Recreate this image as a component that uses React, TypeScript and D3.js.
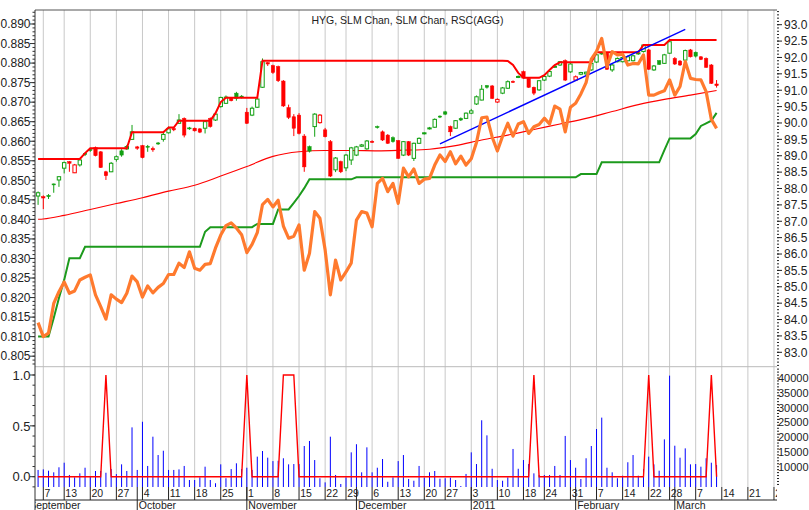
import React from "react";
import * as d3 from "d3";

const TITLE = "HYG, SLM Chan, SLM Chan, RSC(AGG)";
const HOLIDAYS = ["2010-09-06", "2010-11-25", "2010-12-24", "2011-01-17", "2011-02-21"];
const CAL_START = "2010-09-01";
const CAL_END = "2011-03-31";
const FIRST_DAY = "2010-09-03";
const MONTH_NAMES = ["January", "February", "March", "April", "May", "June", "July", "August", "September", "October", "November", "December"];

// HYG daily candles (right axis), from 2010-09-03 to 2011-03-11
const OPEN = [
  87.77, 87.75, 87.79, 88.14, 88.26, 88.62, 88.82, 88.48, 88.72, 89.07,
  89.19, 89.25, 89.12, 88.51, 88.51, 88.89, 89.15, 89.21, 89.50, 89.27,
  89.31, 89.29, 89.22, 89.39, 89.50, 89.70, 89.83, 89.99, 90.14, 89.85,
  89.84, 89.82, 89.84, 90.14, 90.09, 90.50, 90.60, 90.77, 90.91, 90.82,
  90.33, 90.24, 90.48, 91.09, 91.84, 91.75, 91.72, 91.28, 90.47, 90.19,
  90.24, 89.60, 89.28, 89.89, 90.01, 89.79, 89.43, 88.57, 88.82, 88.63,
  88.87, 89.02, 89.29, 89.21, 89.44, 89.89, 89.73, 89.63, 89.55, 89.46,
  89.02, 89.43, 88.92, 89.38, 89.67, 89.82, 89.87, 90.21, 90.34, 89.89,
  89.84, 90.14, 90.14, 90.30, 90.58, 90.70, 91.14, 91.13, 90.64, 90.91,
  91.06, 91.27, 91.39, 91.57, 91.36, 91.09, 91.01, 91.31, 91.43, 91.70,
  91.77, 91.90, 91.56, 91.31, 91.49, 91.50, 91.62, 91.86, 92.11, 92.13,
  91.62, 91.87, 91.87, 91.90, 91.90, 92.11, 92.18, 92.23, 91.62, 91.90,
  91.82, 92.13, 91.97, 91.89, 91.92, 92.23, 92.16, 92.02, 91.97, 91.77,
  91.19,
];
const HIGH = [
  87.91, 87.79, 87.83, 88.15, 88.38, 88.82, 88.84, 88.75, 88.90, 89.09,
  89.21, 89.28, 89.14, 88.54, 88.81, 89.01, 89.20, 89.33, 89.94, 89.30,
  89.33, 89.33, 89.28, 89.42, 89.70, 89.89, 89.85, 90.27, 90.17, 89.88,
  89.86, 89.84, 90.07, 90.17, 90.30, 90.80, 90.84, 90.79, 90.95, 90.85,
  90.46, 90.50, 90.79, 91.97, 91.86, 91.78, 91.75, 91.31, 90.56, 90.27,
  90.30, 89.66, 89.31, 90.30, 90.27, 89.85, 89.48, 88.96, 88.85, 89.05,
  89.27, 89.30, 89.36, 89.48, 89.47, 89.92, 89.77, 89.66, 89.59, 89.48,
  89.45, 89.45, 89.40, 89.56, 89.72, 89.88, 90.14, 90.23, 90.37, 89.92,
  90.09, 90.17, 90.32, 90.43, 90.84, 91.16, 91.16, 91.16, 90.75, 91.10,
  91.30, 91.30, 91.45, 91.60, 91.37, 91.11, 91.31, 91.46, 91.59, 91.75,
  91.89, 91.94, 91.83, 91.45, 91.56, 91.57, 91.98, 92.11, 92.17, 92.15,
  91.80, 92.00, 92.03, 92.06, 92.08, 92.17, 92.41, 92.26, 91.77, 91.92,
  92.11, 92.53, 92.01, 91.92, 92.24, 92.26, 92.18, 92.04, 92.00, 91.80,
  91.31,
];
const LOW = [
  87.50, 87.37, 87.68, 87.87, 88.05, 88.46, 88.51, 88.47, 88.67, 88.99,
  89.12, 88.98, 88.63, 88.26, 88.50, 88.82, 88.97, 89.18, 89.48, 89.18,
  88.92, 89.12, 89.12, 89.33, 89.43, 89.68, 89.75, 89.97, 89.56, 89.79,
  89.74, 89.69, 89.68, 89.86, 90.06, 90.47, 90.58, 90.66, 90.68, 90.75,
  89.97, 90.21, 90.46, 91.07, 91.74, 91.50, 91.25, 90.49, 90.12, 89.60,
  89.65, 88.51, 89.10, 89.58, 89.98, 89.56, 88.35, 88.50, 88.47, 88.53,
  88.72, 88.99, 89.27, 89.18, 89.39, 89.83, 89.45, 89.36, 89.40, 88.90,
  88.99, 88.99, 88.84, 89.36, 89.65, 89.80, 89.85, 90.15, 90.24, 89.60,
  89.82, 90.06, 90.12, 90.27, 90.55, 90.69, 91.05, 90.73, 90.61, 90.88,
  91.04, 91.22, 91.37, 91.36, 91.07, 90.85, 90.98, 91.28, 91.40, 91.68,
  91.74, 91.28, 91.53, 91.28, 91.46, 91.46, 91.59, 91.83, 92.08, 91.62,
  91.56, 91.85, 91.85, 91.88, 91.88, 92.08, 92.15, 91.62, 91.59, 91.77,
  91.80, 92.11, 91.77, 91.74, 91.89, 92.00, 92.00, 91.92, 91.68, 91.19,
  91.08,
];
const CLOSE = [
  87.87, 87.71, 87.75, 88.11, 88.36, 88.79, 88.77, 88.72, 88.87, 89.04,
  89.16, 89.00, 88.64, 88.39, 88.77, 88.97, 89.02, 89.28, 89.73, 89.23,
  88.94, 89.26, 89.18, 89.36, 89.65, 89.82, 89.79, 90.09, 89.63, 89.82,
  89.76, 89.72, 90.04, 89.89, 90.27, 90.78, 90.79, 90.68, 90.75, 90.79,
  89.99, 90.45, 90.73, 91.87, 91.80, 91.54, 91.29, 90.52, 90.17, 89.84,
  89.68, 88.66, 89.14, 90.27, 90.24, 89.58, 88.38, 88.93, 88.51, 89.02,
  89.24, 89.27, 89.33, 89.45, 89.41, 89.86, 89.48, 89.38, 89.43, 88.92,
  89.43, 89.02, 89.38, 89.53, 89.70, 89.85, 90.11, 90.18, 90.27, 89.73,
  90.07, 90.09, 90.30, 90.37, 90.80, 91.03, 91.09, 90.75, 90.72, 91.07,
  91.26, 91.24, 91.42, 91.37, 91.09, 90.91, 91.29, 91.42, 91.57, 91.73,
  91.87, 91.31, 91.80, 91.41, 91.54, 91.55, 91.82, 92.08, 92.14, 91.64,
  91.77, 91.97, 92.00, 92.02, 92.05, 92.14, 92.38, 91.64, 91.74, 91.79,
  92.08, 92.48, 91.80, 91.77, 92.21, 92.02, 92.04, 91.94, 91.70, 91.21,
  91.14,
];
// SLM channel, upper and lower (right axis)
const UPPER = [
  88.90, 88.90, 88.90, 88.90, 88.90, 88.90, 88.90, 88.90, 88.90, 89.08,
  89.23, 89.23, 89.23, 89.23, 89.23, 89.23, 89.23, 89.23, 89.72, 89.72,
  89.72, 89.72, 89.72, 89.72, 89.72, 89.86, 89.86, 90.07, 90.07, 90.07,
  90.07, 90.07, 90.07, 90.07, 90.30, 90.64, 90.77, 90.77, 90.77, 90.77,
  90.77, 90.77, 90.77, 91.90, 91.90, 91.90, 91.90, 91.90, 91.90, 91.90,
  91.90, 91.90, 91.90, 91.90, 91.90, 91.90, 91.90, 91.90, 91.90, 91.90,
  91.90, 91.90, 91.90, 91.90, 91.90, 91.90, 91.90, 91.90, 91.90, 91.90,
  91.90, 91.90, 91.90, 91.90, 91.90, 91.90, 91.90, 91.90, 91.90, 91.90,
  91.90, 91.90, 91.90, 91.90, 91.90, 91.90, 91.90, 91.90, 91.90, 91.90,
  91.89, 91.77, 91.53, 91.38, 91.38, 91.38, 91.38, 91.46, 91.62, 91.77,
  91.85, 91.85, 91.85, 91.85, 91.85, 91.85, 91.85, 92.16, 92.16, 92.16,
  92.16, 92.16, 92.16, 92.16, 92.16, 92.16, 92.38, 92.38, 92.38, 92.38,
  92.38, 92.53, 92.53, 92.53, 92.53, 92.53, 92.53, 92.53, 92.53, 92.53,
  92.53,
];
const LOWER = [
  83.48, 83.48, 83.48, 84.05, 84.66, 85.21, 85.87, 85.87, 85.87, 86.22,
  86.22, 86.22, 86.22, 86.22, 86.22, 86.22, 86.22, 86.22, 86.22, 86.22,
  86.22, 86.22, 86.22, 86.22, 86.22, 86.22, 86.22, 86.22, 86.22, 86.22,
  86.22, 86.22, 86.68, 86.82, 86.82, 86.82, 86.82, 86.82, 86.82, 86.82,
  86.82, 86.82, 86.92, 86.92, 86.92, 86.92, 87.36, 87.36, 87.36, 87.56,
  87.77, 88.01, 88.28, 88.28, 88.28, 88.28, 88.28, 88.28, 88.28, 88.28,
  88.28, 88.34, 88.34, 88.34, 88.34, 88.34, 88.34, 88.34, 88.34, 88.34,
  88.34, 88.34, 88.34, 88.34, 88.34, 88.34, 88.34, 88.34, 88.34, 88.34,
  88.34, 88.34, 88.34, 88.34, 88.34, 88.34, 88.34, 88.34, 88.34, 88.34,
  88.34, 88.34, 88.34, 88.34, 88.34, 88.34, 88.34, 88.34, 88.34, 88.34,
  88.34, 88.34, 88.34, 88.34, 88.44, 88.44, 88.44, 88.44, 88.80, 88.80,
  88.80, 88.80, 88.80, 88.80, 88.80, 88.80, 88.80, 88.80, 88.80, 88.80,
  89.17, 89.53, 89.53, 89.53, 89.53, 89.53, 89.66, 89.91, 89.99, 90.07,
  90.31,
];
// RSC(AGG) relative strength ratio (left axis)
const RSC = [
  0.8136, 0.8100, 0.8109, 0.8185, 0.8215, 0.8240, 0.8211, 0.8217, 0.8245, 0.8252,
  0.8258, 0.8207, 0.8177, 0.8145, 0.8207, 0.8196, 0.8187, 0.8211, 0.8255, 0.8240,
  0.8201, 0.8230, 0.8212, 0.8226, 0.8236, 0.8259, 0.8259, 0.8288, 0.8277, 0.8317,
  0.8275, 0.8270, 0.8285, 0.8287, 0.8327, 0.8360, 0.8384, 0.8391, 0.8378, 0.8361,
  0.8315, 0.8336, 0.8366, 0.8438, 0.8451, 0.8432, 0.8449, 0.8383, 0.8352, 0.8357,
  0.8386, 0.8270, 0.8313, 0.8420, 0.8403, 0.8322, 0.8207, 0.8296, 0.8245, 0.8266,
  0.8288, 0.8398, 0.8420, 0.8416, 0.8381, 0.8492, 0.8505, 0.8471, 0.8492, 0.8441,
  0.8531, 0.8509, 0.8529, 0.8492, 0.8503, 0.8505, 0.8539, 0.8565, 0.8548, 0.8573,
  0.8542, 0.8562, 0.8539, 0.8555, 0.8597, 0.8660, 0.8662, 0.8611, 0.8575, 0.8613,
  0.8646, 0.8613, 0.8644, 0.8650, 0.8620, 0.8637, 0.8643, 0.8659, 0.8644, 0.8690,
  0.8682, 0.8624, 0.8687, 0.8697, 0.8721, 0.8750, 0.8810, 0.8830, 0.8863, 0.8791,
  0.8829, 0.8821, 0.8823, 0.8795, 0.8799, 0.8798, 0.8821, 0.8718, 0.8718, 0.8724,
  0.8729, 0.8757, 0.8718, 0.8740, 0.8804, 0.8761, 0.8758, 0.8757, 0.8727, 0.8656,
  0.8633,
];
const VOLUME = [
  8900, 9100, 8650, 8100, 9800, 11350, 7200, 6400, 7750, 9650,
  6600, 8550, 8550, 7950, 9200, 7500, 10800, 8550, 23300, 8900,
  25200, 10250, 20150, 13950, 15400, 8900, 8900, 9100, 10250, 5500,
  5500, 6400, 10000, 5500, 4400, 10800, 6100, 9200, 11150, 9200,
  9650, 8900, 13400, 15300, 13050, 11900, 12000, 12850, 10800, 10900,
  10900, 17000, 18700, 12250, 6100, 4700, 20150, 7200, 4150, 6400,
  14850, 17600, 8100, 16550, 8100, 9650, 12600, 4900, 6400, 11900,
  13950, 5850, 5250, 10250, 6300, 8100, 8550, 5950, 6100, 6300,
  5500, 3450, 7550, 14850, 10900, 25700, 20600, 9300, 5500, 5250,
  6400, 16000, 9300, 12250, 10900, 7750, 7200, 7200, 7200, 10250,
  7200, 20400, 12250, 9650, 5850, 12850, 17000, 22750, 26600, 9650,
  8100, 6100, 6950, 11500, 13950, 6950, 9200, 13400, 10800, 8650,
  19250, 40800, 17100, 13050, 16200, 10800, 10900, 10000, 12850, 11350,
  10550,
];
const SIGNAL = [
  0, 0, 0, 0, 0, 0, 0, 0, 0, 0,
  0, 0, 0, 1, 0, 0, 0, 0, 0, 0,
  0, 0, 0, 0, 0, 0, 0, 0, 0, 0,
  0, 0, 0, 0, 0, 0, 0, 0, 0, 0,
  1, 0, 0, 0, 0, 0, 0, 1, 1, 1,
  0, 0, 0, 0, 0, 0, 0, 0, 0, 0,
  0, 0, 0, 0, 0, 0, 0, 0, 0, 0,
  0, 0, 0, 0, 0, 0, 0, 0, 0, 0,
  0, 0, 0, 0, 0, 0, 0, 0, 0, 0,
  0, 0, 0, 0, 0, 1, 0, 0, 0, 0,
  0, 0, 0, 0, 0, 0, 0, 0, 0, 0,
  0, 0, 0, 0, 0, 0, 0, 1, 0, 0,
  0, 0, 0, 0, 0, 0, 0, 0, 0, 1,
  0,
];
// Long moving average (thin red), sampled
const MA_DATES = [
  "2010-09-03", "2010-09-07", "2010-09-13", "2010-09-20", "2010-09-27", "2010-10-04", "2010-10-11",
  "2010-10-18", "2010-10-25", "2010-11-01", "2010-11-08", "2010-11-15", "2010-11-22", "2010-11-30",
  "2010-12-07", "2010-12-14", "2010-12-21", "2010-12-29", "2011-01-05", "2011-01-12", "2011-01-20",
  "2011-01-27", "2011-02-03", "2011-02-10", "2011-02-17", "2011-02-25", "2011-03-04", "2011-03-11",
];
const MA_VALUES = [
  87.06, 87.07, 87.18, 87.36, 87.54, 87.72, 87.92,
  88.10, 88.38, 88.67, 88.98, 89.12, 89.16, 89.16,
  89.15, 89.17, 89.20, 89.31, 89.48, 89.63, 89.80,
  89.97, 90.14, 90.35, 90.56, 90.72, 90.85, 90.99,
];
const TREND_DATES = ["2010-12-23", "2011-03-03"];
const TREND_VALUES = [89.36, 92.86];

const RSC_TICKS = ["0.805", "0.810", "0.815", "0.820", "0.825", "0.830", "0.835", "0.840", "0.845", "0.850", "0.855", "0.860", "0.865", "0.870", "0.875", "0.880", "0.885", "0.890"];
const PRICE_TICKS = ["83.0", "83.5", "84.0", "84.5", "85.0", "85.5", "86.0", "86.5", "87.0", "87.5", "88.0", "88.5", "89.0", "89.5", "90.0", "90.5", "91.0", "91.5", "92.0", "92.5", "93.0"];
const SIGNAL_TICKS = ["0.0", "0.5", "1.0"];
const VOLUME_TICKS = ["10000", "15000", "20000", "25000", "30000", "35000", "40000"];

const iso = (d: Date) => d.toISOString().slice(0, 10);

function tradingDays(): Date[] {
  const out: Date[] = [];
  const d = new Date(CAL_START + "T00:00:00Z");
  const end = new Date(CAL_END + "T00:00:00Z");
  while (d <= end) {
    const wd = d.getUTCDay();
    if (wd !== 0 && wd !== 6 && !HOLIDAYS.includes(iso(d))) out.push(new Date(d.getTime()));
    d.setUTCDate(d.getUTCDate() + 1);
  }
  return out;
}

const FONT = "'Liberation Sans', Arial, Helvetica, sans-serif";
const GREEN = "#12a012";
const CH_GREEN = "#1c9a1c";
const RED = "#ff0000";
const ORANGE = "#ff7a2e";
const GRID = "#c8c8c8";
const TXT = "#222";

export default function App() {
  const W = 809, H = 510;
  const L = 35, R = 777, T = 10, M = 366.7, B = 487, ROW = 500;
  const days = tradingDays();
  const pos = (s: string) => days.findIndex((d) => iso(d) === s);
  const off = pos(FIRST_DAY);

  const x = d3.scaleLinear().domain([1.41, 143.58]).range([L, R]);
  const xd = (j: number) => x(off + j);
  const yR = d3.scaleLinear().domain([82.5604, 93.4487]).range([M, T]);
  const yL = d3.scaleLinear().domain([0.802308, 0.893582]).range([M, T]);
  const yS = d3.scaleLinear().domain([-0.1013, 1.0816]).range([B, M]);
  const yV = d3.scaleLinear().domain([3134, 43821]).range([B, M]);

  const weekTicks = days
    .map((d, p) => ({ d, p }))
    .filter(({ d, p }) => p > 0 && d.getUTCDay() < days[p - 1].getUTCDay());
  const monthTicks = days
    .map((d, p) => ({ d, p }))
    .filter(({ d, p }) => p > 0 && d.getUTCMonth() !== days[p - 1].getUTCMonth());
  const monthLabels = [{ d: days[0], p: 0 }, ...monthTicks].map(({ d, p }) => ({
    p,
    text: d.getUTCMonth() === 0 ? String(d.getUTCFullYear()) : MONTH_NAMES[d.getUTCMonth()],
  }));

  const idx = d3.range(CLOSE.length);
  const lineR = (vals: number[]) =>
    d3.line<number>().x((j) => xd(j)).y((j) => yR(vals[j]))(idx) || "";
  const rscPath = d3.line<number>().x((j) => xd(j)).y((j) => yL(RSC[j]))(idx) || "";
  const sigPath = d3.line<number>().x((j) => xd(j)).y((j) => yS(SIGNAL[j]))(idx) || "";
  const maPath =
    d3
      .line<number>()
      .x((k) => x(pos(MA_DATES[k])))
      .y((k) => yR(MA_VALUES[k]))
      .curve(d3.curveMonotoneX)(d3.range(MA_DATES.length)) || "";
  const trendPath =
    d3
      .line<number>()
      .x((k) => x(pos(TREND_DATES[k])))
      .y((k) => yR(TREND_VALUES[k]))(d3.range(TREND_DATES.length)) || "";

  const rscMinor = d3.range(803, 894).map((k) => k / 1000);
  const priceMinor = d3.range(826, 935).map((k) => k / 10);
  const sigMinor = d3.range(-1, 11).map((k) => k / 10);
  const volMinor = d3.range(4, 44).map((k) => k * 1000);

  return (
    <svg
      width={W}
      height={H}
      viewBox={`0 0 ${W} ${H}`}
      style={{ position: "absolute", left: 0, top: 0, background: "#fff" }}
      fontFamily={FONT}
    >
      <defs>
        <clipPath id="clipMain">
          <rect x={L} y={T} width={R - L} height={M - T} />
        </clipPath>
        <clipPath id="clipLow">
          <rect x={L} y={M} width={R - L} height={B - M} />
        </clipPath>
        <clipPath id="clipDates">
          <rect x={L} y={B} width={R - L} height={H - B} />
        </clipPath>
      </defs>
      <rect x={0} y={0} width={W} height={H} fill="#fff" />

      {/* vertical grid */}
      {weekTicks.map(({ p }) => (
        <line key={"g" + p} x1={x(p)} x2={x(p)} y1={T} y2={B} stroke={GRID} strokeWidth={1} />
      ))}
      {/* frame lines */}
      <line x1={L} x2={R} y1={T} y2={T} stroke="#555" strokeWidth={1} />
      <line x1={L} x2={R} y1={M} y2={M} stroke="#bbb" strokeWidth={1} />

      <text x={311.5} y={24} fontSize={10.5} fill={TXT}>
        {TITLE}
      </text>

      {/* main panel */}
      <g clipPath="url(#clipMain)">
        <path d={maPath} fill="none" stroke={RED} strokeWidth={1.1} />
        {idx.map((j) => {
          const o = OPEN[j], c = CLOSE[j], h = HIGH[j], l = LOW[j];
          const prev = j > 0 ? CLOSE[j - 1] : o;
          const color = c >= prev ? GREEN : RED;
          const hollow = c > o;
          const cx = xd(j);
          const yTop = yR(Math.max(o, c));
          const yBot = yR(Math.min(o, c));
          return (
            <g key={"c" + j}>
              <line x1={cx} x2={cx} y1={yR(h)} y2={yR(l)} stroke={color} strokeWidth={1} />
              <rect
                x={cx - 1.7}
                y={yTop}
                width={3.4}
                height={Math.max(1, yBot - yTop)}
                fill={hollow ? "#fff" : color}
                stroke={color}
                strokeWidth={hollow ? 1 : 0.5}
              />
            </g>
          );
        })}
        <path d={lineR(UPPER)} fill="none" stroke={RED} strokeWidth={2} />
        <path d={lineR(LOWER)} fill="none" stroke={CH_GREEN} strokeWidth={2} />
        <path d={trendPath} fill="none" stroke="#0000ff" strokeWidth={1.4} />
        <path d={rscPath} fill="none" stroke={ORANGE} strokeWidth={3.2} strokeLinejoin="round" />
      </g>

      {/* lower panel */}
      <g clipPath="url(#clipLow)">
        {idx.map((j) => (
          <line key={"v" + j} x1={xd(j)} x2={xd(j)} y1={B} y2={yV(VOLUME[j])} stroke="#0000ff" strokeWidth={1} />
        ))}
        <path d={sigPath} fill="none" stroke={RED} strokeWidth={1.4} />
      </g>

      {/* left axis */}
      <line x1={L} x2={L} y1={T} y2={H} stroke="#333" strokeWidth={1} />
      {rscMinor.map((v) => (
        <line key={"lm" + v} x1={L - 2.5} x2={L} y1={yL(v)} y2={yL(v)} stroke="#333" strokeWidth={1} />
      ))}
      {RSC_TICKS.map((t) => (
        <g key={"lt" + t}>
          <line x1={L - 5} x2={L} y1={yL(+t)} y2={yL(+t)} stroke="#333" strokeWidth={1} />
          <text x={L - 4.5} y={yL(+t)} dy="0.36em" textAnchor="end" fontSize={12} fill={TXT}>
            {t}
          </text>
        </g>
      ))}
      {sigMinor.map((v) => (
        <line key={"sm" + v} x1={L - 2.5} x2={L} y1={yS(v)} y2={yS(v)} stroke="#333" strokeWidth={1} />
      ))}
      {SIGNAL_TICKS.map((t) => (
        <g key={"st" + t}>
          <line x1={L - 5} x2={L} y1={yS(+t)} y2={yS(+t)} stroke="#333" strokeWidth={1} />
          <text x={L - 4.5} y={yS(+t)} dy="0.36em" textAnchor="end" fontSize={13} fill={TXT}>
            {t}
          </text>
        </g>
      ))}

      {/* right axis */}
      {priceMinor.map((v) => (
        <line key={"rm" + v} x1={R} x2={R + 2} y1={yR(v)} y2={yR(v)} stroke="#222" strokeWidth={1} />
      ))}
      {PRICE_TICKS.map((t) => (
        <g key={"rt" + t}>
          <line x1={R} x2={R + 5} y1={yR(+t)} y2={yR(+t)} stroke="#222" strokeWidth={1} />
          <text x={R + 7} y={yR(+t)} dy="0.36em" fontSize={12} fill={TXT}>
            {t}
          </text>
        </g>
      ))}
      {volMinor.map((v) => (
        <line key={"vm" + v} x1={R} x2={R + 2} y1={yV(v)} y2={yV(v)} stroke="#222" strokeWidth={1} />
      ))}
      {VOLUME_TICKS.map((t) => (
        <g key={"vt" + t}>
          <text x={R + 1} y={yV(+t)} dy="0.36em" fontSize={11} fill={TXT}>
            {t}
          </text>
        </g>
      ))}

      {/* date axis */}
      <line x1={L} x2={R} y1={ROW} y2={ROW} stroke="#222" strokeWidth={1} />
      <g clipPath="url(#clipDates)">
        {weekTicks.map(({ d, p }) => (
          <g key={"w" + p}>
            <line x1={x(p)} x2={x(p)} y1={B} y2={ROW} stroke="#222" strokeWidth={1} />
            <text x={x(p) + 1.2} y={497} fontSize={10.5} fill={TXT}>
              {d.getUTCDate()}
            </text>
          </g>
        ))}
        {monthTicks.map(({ p }) => (
          <line key={"m" + p} x1={x(p)} x2={x(p)} y1={B} y2={H} stroke="#222" strokeWidth={1} />
        ))}
        {monthLabels.map(({ p, text }) => (
          <text key={"ml" + p} x={x(p) + 1.5} y={509} fontSize={10.5} fill={TXT}>
            {text}
          </text>
        ))}
      </g>
    </svg>
  );
}
